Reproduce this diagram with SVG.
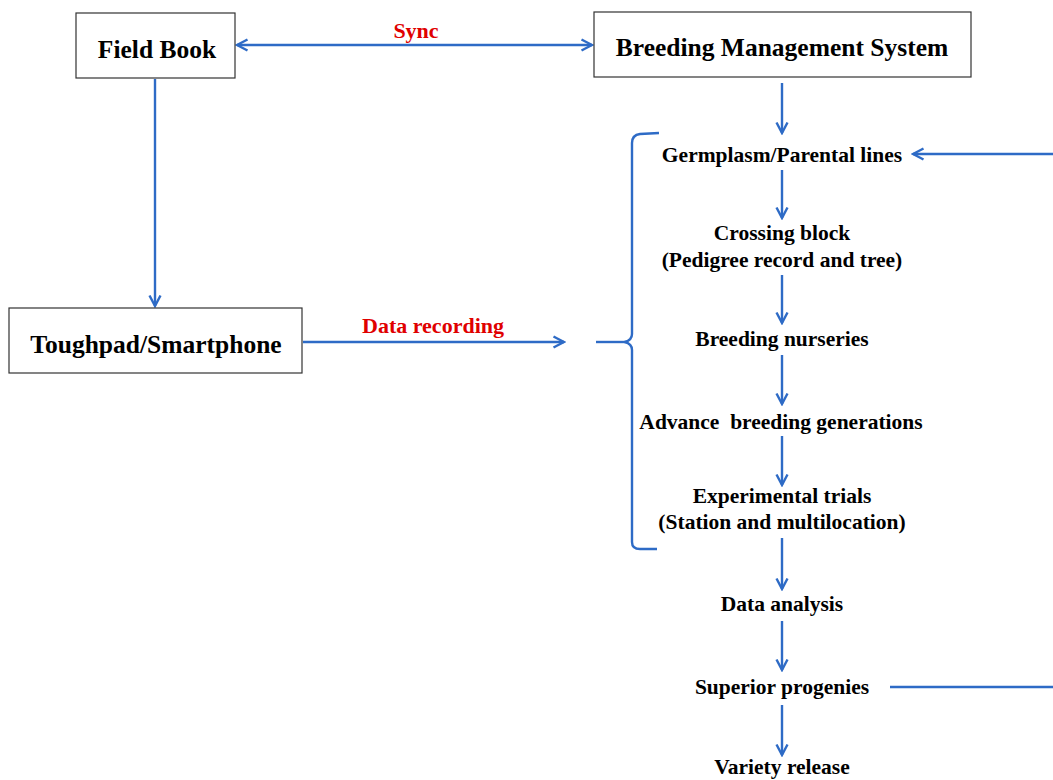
<svg xmlns="http://www.w3.org/2000/svg" width="1053" height="780" viewBox="0 0 1053 780">
<style>
.box{fill:#fff;stroke:#333;stroke-width:1.2}
.bt{font-family:"Liberation Serif",serif;font-weight:bold;font-size:25.5px;fill:#000;text-anchor:middle}
.ft{font-family:"Liberation Serif",serif;font-weight:bold;font-size:21.5px;fill:#000;text-anchor:middle}
.rt{font-family:"Liberation Serif",serif;font-weight:bold;font-size:22px;fill:#e00000;text-anchor:middle}
.c{fill:none;stroke:#2E6BC6;stroke-width:2.4}
</style>
<defs>
<marker id="ah" viewBox="0 0 14 14" refX="12" refY="7" markerWidth="14" markerHeight="14" markerUnits="userSpaceOnUse" orient="auto-start-reverse">
<path d="M1.5,1.5 L12,7 L1.5,12.5" fill="none" stroke="#2E6BC6" stroke-width="2.4"/>
</marker>
</defs>
<rect width="1053" height="780" fill="#fff"/>
<g id="connectors">
<line class="c" x1="237" y1="45" x2="592" y2="45" marker-start="url(#ah)" marker-end="url(#ah)"/>
<line class="c" x1="155" y1="79" x2="155" y2="306" marker-end="url(#ah)"/>
<line class="c" x1="303" y1="342" x2="564" y2="342" marker-end="url(#ah)"/>
<line class="c" x1="782" y1="83" x2="782" y2="133" marker-end="url(#ah)"/>
<line class="c" x1="1053" y1="154" x2="913" y2="154" marker-end="url(#ah)"/>
<line class="c" x1="782" y1="170" x2="782" y2="218" marker-end="url(#ah)"/>
<line class="c" x1="782" y1="275" x2="782" y2="323" marker-end="url(#ah)"/>
<line class="c" x1="782" y1="355" x2="782" y2="404" marker-end="url(#ah)"/>
<line class="c" x1="782" y1="436" x2="782" y2="485" marker-end="url(#ah)"/>
<line class="c" x1="782" y1="538" x2="782" y2="589" marker-end="url(#ah)"/>
<line class="c" x1="782" y1="621" x2="782" y2="670" marker-end="url(#ah)"/>
<line class="c" x1="782" y1="705" x2="782" y2="755" marker-end="url(#ah)"/>
<line class="c" x1="890" y1="687" x2="1053" y2="687"/>
<path class="c" d="M659,133 L640,134 Q632,135 632,143 L632,334 Q632,340 625,342 Q632,344 632,350 L632,542 Q632,549 640,549 L657,549"/>
<line class="c" x1="596" y1="342" x2="626" y2="342"/>
</g>
<g id="field-book">
<rect class="box" x="76" y="13" width="159" height="65"/>
<text class="bt" x="157" y="58">Field Book</text>
</g>
<g id="bms">
<rect class="box" x="594" y="12" width="377" height="65"/>
<text class="bt" x="782" y="56">Breeding Management System</text>
</g>
<g id="toughpad">
<rect class="box" x="9" y="308" width="293" height="65"/>
<text class="bt" x="156" y="353">Toughpad/Smartphone</text>
</g>
<g id="labels">
<text class="rt" x="416" y="38">Sync</text>
<text class="rt" x="433" y="333">Data recording</text>
</g>
<g id="germplasm"><text class="ft" x="782" y="162">Germplasm/Parental lines</text></g>
<g id="crossing"><text class="ft" x="782" y="240">Crossing block</text><text class="ft" x="782" y="267">(Pedigree record and tree)</text></g>
<g id="nurseries"><text class="ft" x="782" y="346">Breeding nurseries</text></g>
<g id="advance"><text class="ft" x="781" y="429" xml:space="preserve">Advance  breeding generations</text></g>
<g id="trials"><text class="ft" x="782" y="503">Experimental trials</text><text class="ft" x="782" y="529">(Station and multilocation)</text></g>
<g id="analysis"><text class="ft" x="782" y="611">Data analysis</text></g>
<g id="progenies"><text class="ft" x="782" y="694">Superior progenies</text></g>
<g id="release"><text class="ft" x="782" y="774">Variety release</text></g>
</svg>
